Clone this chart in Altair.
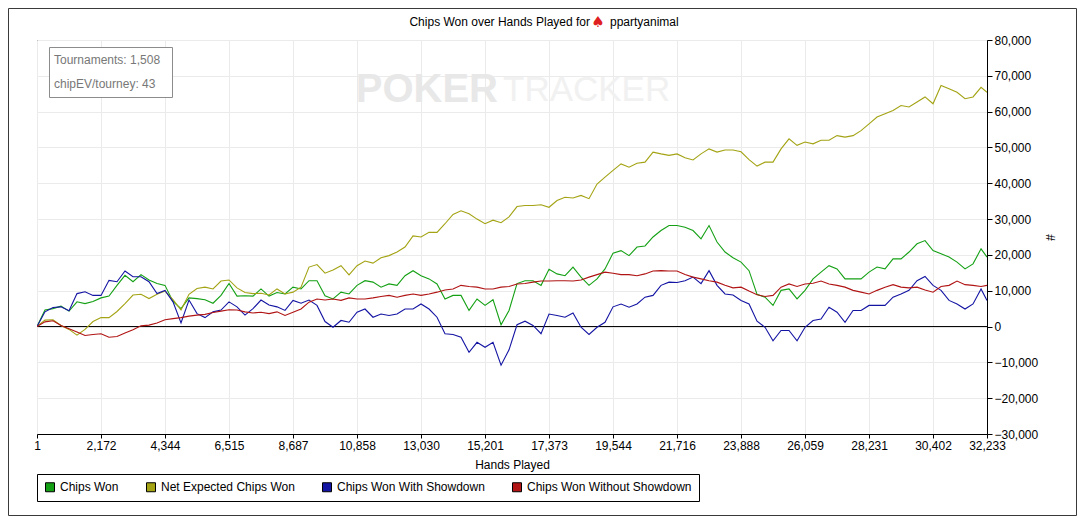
import altair as alt
import pandas as pd

# ---------------- data ----------------
HANDS = [1, 272, 544, 815, 1087, 1358, 1630, 1901, 2173, 2444, 2715, 2987, 3258, 3530, 3801,
         4073, 4344, 4615, 4887, 5158, 5430, 5701, 5973, 6244, 6516, 6787, 7058, 7330, 7601, 7873,
         8144, 8416, 8687, 8959, 9230, 9501, 9773, 10044, 10316, 10587, 10859, 11130, 11401, 11673,
         11944, 12216, 12487, 12759, 13030, 13302, 13573, 13844, 14116, 14387, 14659, 14930, 15202,
         15473, 15745, 16016, 16287, 16559, 16830, 17102, 17373, 17645, 17916, 18187, 18459, 18730,
         19002, 19273, 19545, 19816, 20088, 20359, 20630, 20902, 21173, 21445, 21716, 21988, 22259,
         22530, 22802, 23073, 23345, 23616, 23888, 24159, 24431, 24702, 24973, 25245, 25516, 25788,
         26059, 26331, 26602, 26873, 27145, 27416, 27688, 27959, 28231, 28502, 28774, 29045, 29316,
         29588, 29859, 30131, 30402, 30674, 30945, 31216, 31488, 31759, 32031, 32233]

CHIPS_WON = [0, 4600, 5000, 5700, 4300, 6900, 6400, 7000, 8000, 8500, 11500, 14300, 12500, 14500,
             13000, 12000, 11500, 7000, 5000, 8000, 7800, 7500, 6500, 8700, 12000, 8500, 8600, 8500,
             10500, 8500, 9500,
             9100, 11000, 10500, 12800, 12800, 8600, 7700, 9600, 9100, 11500, 12800, 12400, 11000,
             11900, 11500, 14200, 15600, 14200, 13300, 11900, 7700, 8700, 8700, 4500, 7700, 5900,
             7500, 500, 4500, 12000,
             12800, 12800, 11500, 16000, 14700, 14200, 16600, 13800, 11500, 13300, 16100, 20500,
             21200, 19800, 22200, 22500, 25000, 26800, 28200, 28200, 27700, 26800, 24500, 28200,
             23600, 20800, 19200, 18000, 15600, 9000,
             8200, 5900, 10100, 10500, 7700, 10100, 13300, 15200, 17000, 16100, 13300, 13300, 13300,
             15200, 16600, 16100, 18900, 18900, 20800, 23100, 24000, 21200, 20300, 19400, 18000,
             16100, 17500, 21700, 19400]

NET_EXPECTED = [0, 1800, 1900, 300, -800, -2400, -800, 1400, 2500, 2500, 4200, 6400, 8800, 9000,
                7800, 9000, 9900, 7500, 4600, 9000, 10600, 11000, 10500, 12700, 13000, 10800, 9500,
                9200, 9300, 8800, 10500,
                9100, 9600, 11000, 16600, 17300, 14900, 15800, 17000, 14400, 17000, 18300, 17700,
                19200, 19800, 20800, 22200, 25300, 25000, 26300, 26300, 28700, 31300, 32300, 31500,
                30000, 28700, 29700, 29000, 30600, 33500,
                33800, 33800, 34000, 33300, 35200, 36100, 35900, 36600, 35700, 39800, 41700, 43600,
                45400, 44500, 45600, 45900, 48700, 48200, 47800, 48200, 47100, 46500, 48200, 49600,
                48700, 49300, 49300, 48800, 46600, 44800,
                45900, 45900, 49600, 52400, 50600, 51500, 51000, 52000, 52000, 53300, 52900, 53300,
                54700, 56600, 58500, 59400, 60300, 61700, 61300, 62700, 64100, 62200, 67300, 66400,
                65400, 63600, 64100, 66800, 65400]

WITH_SHOWDOWN = [0, 4100, 5300, 5500, 4400, 9200, 9700, 8700, 8700, 12900, 12500, 15500, 13900,
                 13900, 12500, 9200, 10100, 6900, 1000, 7400, 3600, 2500, 4100, 4600, 6900, 5500,
                 3200, 5000, 7400, 6000, 5500,
                 4500, 7300, 6500, 7400, 5900, 1400, -200, 1700, 1200, 4000, 4900, 2600, 3500,
                 3100, 3500, 4900, 4900, 6300, 4900, 2600, -2000, -2200, -3000, -7200, -4400,
                 -5800, -4400, -10800, -6500, 500,
                 1500, 300, -2000, 3500, 3100, 2600, 3800, -200, -2200, -200, 1200, 5500, 6300,
                 5400, 6300, 8200, 8700, 11500, 12400, 12300, 12800, 13800, 12000, 15600, 11500,
                 9100, 8800, 7300, 6300, 1500,
                 -200, -4000, -1100, -1100, -4000, -200, 1700, 2100, 5400, 4000, 1200, 4500, 4500,
                 5900, 5900, 5900, 8200, 9100, 10100, 12800, 14000, 11500, 10100, 7300, 6300, 4900,
                 6300, 10500, 7300]

WITHOUT_SHOWDOWN = [0, 1300, 1600, 300, -600, -1500, -2500, -2200, -2000, -3000, -2800, -1800,
                    -900, 200, 400, 1000, 1900, 2200, 2500, 2900, 3200, 3400, 3900, 4300, 4700,
                    4600, 4100, 3800, 4000, 3600, 4100,
                    3100, 4000, 4900, 6800, 7700, 7400, 7700, 7300, 8000, 7700, 7700, 8000, 8400,
                    8700, 8200, 8700, 9100, 8700, 9100, 9600, 10200, 10500, 11500, 11200, 11000,
                    10500, 10500, 11000, 11200, 11900,
                    12000, 12400, 12700, 12700, 12800, 12800, 12700, 13000, 13800, 14500, 15200,
                    14900, 14500, 14500, 14200, 14700, 15500, 15600, 15500, 15500, 14500, 13800,
                    13300, 12800, 12400, 11500, 10800, 11000, 9900, 8900,
                    8400, 8700, 11000, 11900, 11200, 11900, 12100, 12700, 11900, 11500, 11000,
                    10100, 9600, 9100, 10100, 11000, 11700, 11000, 10800, 11000, 10200, 9600,
                    11200, 11500, 12700, 11700, 11500, 11200, 11500]

SERIES = ["Chips Won", "Net Expected Chips Won", "Chips Won With Showdown",
          "Chips Won Without Showdown"]
COLORS = ["#14a014", "#a3a314", "#1414a3", "#b01414"]

X_TICKS = [1, 2172, 4344, 6515, 8687, 10858, 13030, 15201, 17373, 19544, 21716, 23888,
           26059, 28231, 30402, 32233]
Y_TICKS = [-30000, -20000, -10000, 0, 10000, 20000, 30000, 40000, 50000, 60000, 70000, 80000]

TITLE_TEXT = "Chips Won over Hands Played for"
TITLE_ICON = "\u2660"
PLAYER = "ppartyanimal"
STATS_LINES = ["Tournaments: 1,508", "chipEV/tourney: 43"]
WATERMARK = ["POKER", "TRACKER"]

# ---------------- build table ----------------
rows = []
for name, vals in zip(SERIES, [CHIPS_WON, NET_EXPECTED, WITH_SHOWDOWN, WITHOUT_SHOWDOWN]):
    for h, v in zip(HANDS, vals):
        rows.append({"hands": h, "chips": v, "series": name})
df = pd.DataFrame(rows)

FONT = "Liberation Sans"
color_scale = alt.Scale(domain=SERIES, range=COLORS)

x_enc = alt.X(
    "hands:Q",
    scale=alt.Scale(domain=[1, 32233], nice=False, zero=False),
    axis=alt.Axis(values=X_TICKS, format=",.0f", title="Hands Played", grid=True,
                  gridColor="#ebebeb", tickSize=4, labelPadding=2, labelOverlap=False,
                  labelFlush=False, titleY=30, titleBaseline="middle"),
)
y_enc = alt.Y(
    "chips:Q",
    scale=alt.Scale(domain=[-30000, 80000], nice=False, zero=False),
    axis=alt.Axis(orient="right", values=Y_TICKS, format=",.0f", title="#", titleAngle=90,
                  titleX=62, titleY=197, titleAlign="center", titleBaseline="middle",
                  tickSize=5, labelPadding=2, grid=True, gridColor="#ebebeb",
                  labelOverlap=False, labelFlush=False),
)

one = pd.DataFrame({"a": [0]})

outer = alt.Chart(one).mark_rect(fillOpacity=0, stroke="#3a3a3a", strokeWidth=1).encode(
    x=alt.value(-28.5), x2=alt.value(1039.5), y=alt.value(-31.5), y2=alt.value(475.5))

wm1 = alt.Chart(pd.DataFrame({"t": [WATERMARK[0]]})).mark_text(
    align="right", baseline="middle", fontSize=40, fontWeight="bold",
    font=FONT, color="#e8e8e8").encode(
    x=alt.value(461), y=alt.value(50), text="t:N")
wm2 = alt.Chart(pd.DataFrame({"t": [WATERMARK[1]]})).mark_text(
    align="left", baseline="middle", fontSize=35, fontWeight="normal",
    font=FONT, color="#f1f1f1").encode(
    x=alt.value(466), y=alt.value(50), text="t:N")

zero_rule = alt.Chart(pd.DataFrame({"chips": [0]})).mark_rule(
    color="black", strokeWidth=1).encode(y=y_enc)

lines = []
for name in SERIES:
    lines.append(
        alt.Chart(df[df["series"] == name]).mark_line(strokeWidth=1.1, clip=True).encode(
            x=x_enc, y=y_enc,
            color=alt.Color("series:N", scale=color_scale, legend=None))
    )

legend_layer = alt.Chart(df).transform_filter("false").mark_square(
    size=81, filled=True, opacity=1, stroke="black", strokeWidth=1).encode(
    x=x_enc, y=y_enc,
    color=alt.Color("series:N", scale=color_scale, legend=alt.Legend(
        orient="none", legendX=0, legendY=434, direction="horizontal", title=None,
        strokeColor="black", fillColor="white", padding=7, symbolType="square",
        symbolSize=81, symbolStrokeColor="black", symbolStrokeWidth=1, symbolOpacity=1,
        labelFont=FONT, labelFontSize=12, labelColor="black", labelOffset=4,
        labelLimit=400, columnPadding=25)))

stats_box = alt.Chart(one).mark_rect(fill="white", stroke="#8c8c8c", strokeWidth=1).encode(
    x=alt.value(12.5), x2=alt.value(135.5), y=alt.value(7.5), y2=alt.value(57.5))
stats1 = alt.Chart(pd.DataFrame({"t": [STATS_LINES[0]]})).mark_text(
    align="left", baseline="middle", fontSize=12, font=FONT, color="#777777").encode(
    x=alt.value(17), y=alt.value(20), text="t:N")
stats2 = alt.Chart(pd.DataFrame({"t": [STATS_LINES[1]]})).mark_text(
    align="left", baseline="middle", fontSize=12, font=FONT, color="#777777").encode(
    x=alt.value(17), y=alt.value(44), text="t:N")

title1 = alt.Chart(pd.DataFrame({"t": [TITLE_TEXT]})).mark_text(
    align="right", baseline="middle", fontSize=12, font=FONT, color="black").encode(
    x=alt.value(553), y=alt.value(-18), text="t:N")
title_icon = alt.Chart(pd.DataFrame({"t": [TITLE_ICON]})).mark_text(
    align="center", baseline="middle", fontSize=15, font="DejaVu Sans", color="#e02020").encode(
    x=alt.value(561), y=alt.value(-18), text="t:N")
title2 = alt.Chart(pd.DataFrame({"t": [PLAYER]})).mark_text(
    align="left", baseline="middle", fontSize=12, font=FONT, color="black").encode(
    x=alt.value(573), y=alt.value(-18), text="t:N")

chart = alt.layer(
    outer, wm1, wm2, stats_box, stats1, stats2, zero_rule, *lines, legend_layer,
    title1, title_icon, title2,
).resolve_legend(
    color="independent"
).properties(
    width=950, height=394,
    padding={"left": 29, "top": 32, "right": 90, "bottom": 82},
    autosize=alt.AutoSizeParams(type="none"),
    background="white",
).configure_view(
    stroke="black", strokeWidth=1
).configure_axis(
    labelFont=FONT, labelFontSize=12, labelColor="black", titleFont=FONT, titleFontSize=12,
    titleFontWeight="normal", titleColor="black", tickColor="black", domainColor="black",
    domainWidth=1, tickWidth=1,
)

chart.save("out.html", embed_options={"renderer": "svg", "actions": False})
